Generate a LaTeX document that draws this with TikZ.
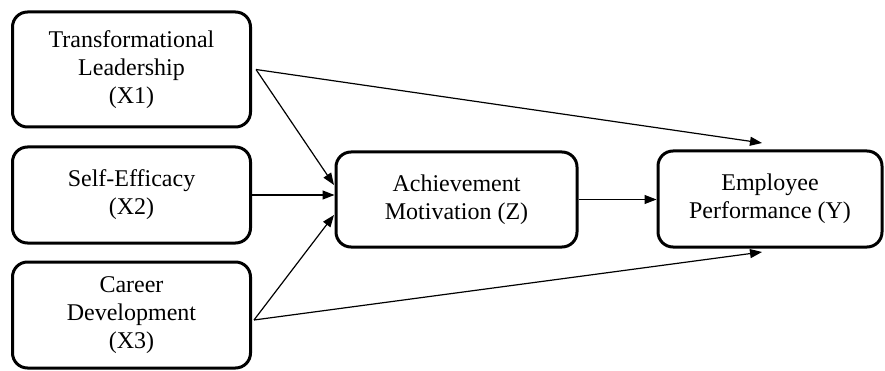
\documentclass[tikz,border=0pt]{standalone}
\usepackage{fontspec}
\setmainfont{Liberation Serif}
\usetikzlibrary{arrows.meta}
\begin{document}
\begin{tikzpicture}[x=1pt,y=-1pt,
  box/.style={draw, line width=3pt, rounded corners=15pt, align=center,
    inner sep=0pt, font=\fontsize{24}{28}\selectfont},
  arr/.style={line width=1.2pt, -{Triangle[length=12pt,width=9pt]}}]
\useasboundingbox (0,0) rectangle (885,371);
\node[box, minimum width=238pt, minimum height=115pt] (x1) at (131.5,69.5) {Transformational\\Leadership\\(X1)};
\node[box, minimum width=238pt, minimum height=96pt] (x2) at (131.5,195) {Self-Efficacy\\(X2)};
\node[box, minimum width=238pt, minimum height=106pt] (x3) at (131.5,315) {Career\\Development\\(X3)};
\node[box, minimum width=241pt, minimum height=95pt] (z) at (456.5,199.5) {Achievement\\Motivation (Z)};
\node[box, minimum width=224pt, minimum height=96pt] (y) at (770,199) {Employee\\Performance (Y)};
\coordinate (ty1) at (762,143);
\coordinate (ty3) at (762,252);
\coordinate (tz1) at (334,185);
\coordinate (tz3) at (334,215);
\draw[arr] (x1.east) ++(4,0) coordinate (s1) -- (ty1);
\draw[arr] (s1) -- (tz1);
\draw[arr] (x2.east) -- (x2.east -| z.west);
\draw[arr] (x3.east) ++(2,5) coordinate (s3) -- (tz3);
\draw[arr] (s3) -- (ty3);
\draw[arr] (z.east) -- (z.east -| y.west);
\end{tikzpicture}
\end{document}
